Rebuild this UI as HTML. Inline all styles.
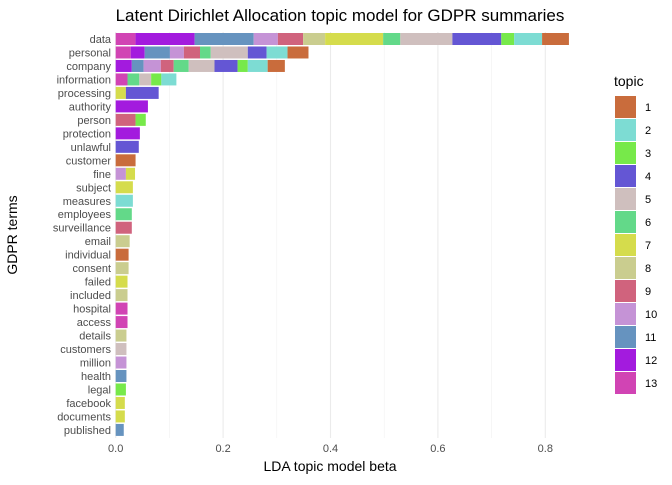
<!DOCTYPE html>
<html><head><meta charset="utf-8"><style>
body{margin:0;background:#fff;}
svg text{font-family:"Liberation Sans",Arial,sans-serif;}
</style></head><body>
<svg id="chart" width="672" height="480" xmlns="http://www.w3.org/2000/svg">
<text x="340" y="21" font-size="17" text-anchor="middle" fill="#000">Latent Dirichlet Allocation topic model for GDPR summaries</text>
<text transform="translate(17,235) rotate(-90)" font-size="14" text-anchor="middle" fill="#000">GDPR terms</text>
<text x="330" y="471" font-size="14" text-anchor="middle" fill="#000">LDA topic model beta</text>
<g id="grid"></g><g id="bars"></g><g id="ylabels"></g><g id="xlabels"></g>
<text x="614" y="86" font-size="14" fill="#000">topic</text>
<g id="legend"></g>
</svg>
<script>
const terms=["data","personal","company","information","processing","authority","person","protection","unlawful","customer","fine","subject","measures","employees","surveillance","email","individual","consent","failed","included","hospital","access","details","customers","million","health","legal","facebook","documents","published"];
const segTopics=[
[13,12,11,10,9,8,7,6,5,4,3,2,1],
[13,12,11,10,9,6,5,4,2,1],
[12,11,10,9,6,5,4,3,2,1],
[13,6,5,3,2],
[7,4],[12],[9,3],[12],[4],[1],[10,7],[7],[2],[6],[9],[8],[1],[8],[7],[8],[13],[13],[8],[5],[10],[11],[3],[7],[7],[11]];
const segValues=[
[0.037,0.110,0.110,0.045,0.047,0.041,0.108,0.032,0.097,0.091,0.024,0.052,0.050],
[0.028,0.026,0.047,0.026,0.030,0.020,0.069,0.035,0.039,0.039],
[0.030,0.022,0.032,0.024,0.028,0.048,0.043,0.019,0.037,0.032],
[0.022,0.022,0.022,0.019,0.028],
[0.019,0.061],[0.060],[0.037,0.019],[0.045],[0.043],[0.037],[0.019,0.017],[0.032],[0.032],[0.030],[0.030],[0.026],[0.024],[0.024],[0.022],[0.022],[0.022],[0.022],[0.020],[0.020],[0.020],[0.020],[0.019],[0.017],[0.017],[0.015]];
const xTicks=[0,0.2,0.4,0.6,0.8];
const xTickLabels=["0.0","0.2","0.4","0.6","0.8"];
const minorTicks=[0.1,0.3,0.5,0.7];
const topics=[1,2,3,4,5,6,7,8,9,10,11,12,13];
const colors={1:"#C96C3C",2:"#7DDCD3",3:"#77E94A",4:"#6456D4",5:"#CFBFBE",6:"#63D989",7:"#D5DC4C",8:"#CACD8F",9:"#D0637D",10:"#C593D6",11:"#6693BF",12:"#A31BDE",13:"#D144B4"};
const NS="http://www.w3.org/2000/svg";
const X0=115.7,XS=537,Y0=39,YS=13.48,BH=12,PT=32,PB=438;
const xs=v=>X0+v*XS, ys=i=>Y0+i*YS;
function mk(tag,attrs,parent){const e=document.createElementNS(NS,tag);for(const k in attrs)e.setAttribute(k,attrs[k]);parent.appendChild(e);return e;}
const grid=document.getElementById('grid');
minorTicks.forEach(v=>{const l=mk('line',{x1:xs(v),x2:xs(v),y1:PT,y2:PB,stroke:'#f0f0f0','stroke-width':0.6},grid);

});
xTicks.forEach((v,i)=>{const l=mk('line',{x1:xs(v),x2:xs(v),y1:PT,y2:PB,stroke:'#ebebeb','stroke-width':1.1},grid);


const t=mk('text',{x:xs(v),y:452,'font-size':11,'text-anchor':'middle',fill:'#4d4d4d'},document.getElementById('xlabels'));t.textContent=xTickLabels[i];

});
const bars=document.getElementById('bars'),yl=document.getElementById('ylabels');
terms.forEach((term,i)=>{
 const y=ys(i);
 const t=mk('text',{x:111,y:y+4,'font-size':11,'text-anchor':'end',fill:'#4d4d4d'},yl);t.textContent=term;
 
 
 let acc=0;
 segValues[i].forEach((v,j)=>{const tp=segTopics[i][j];
  const r=mk('rect',{x:xs(acc),y:y-BH/2,width:v*XS,height:BH,fill:colors[tp]},bars);
  
  
  acc+=v;});
});
const lg=document.getElementById('legend');
topics.forEach((tp,i)=>{const y=96+i*23;
 const r=mk('rect',{x:615,y:y,width:21,height:22,fill:colors[tp]},lg);
 
 
 const t=mk('text',{x:645,y:y+15,'font-size':11,fill:'#000'},lg);t.textContent=tp;
 
 });
</script>
</body></html>
